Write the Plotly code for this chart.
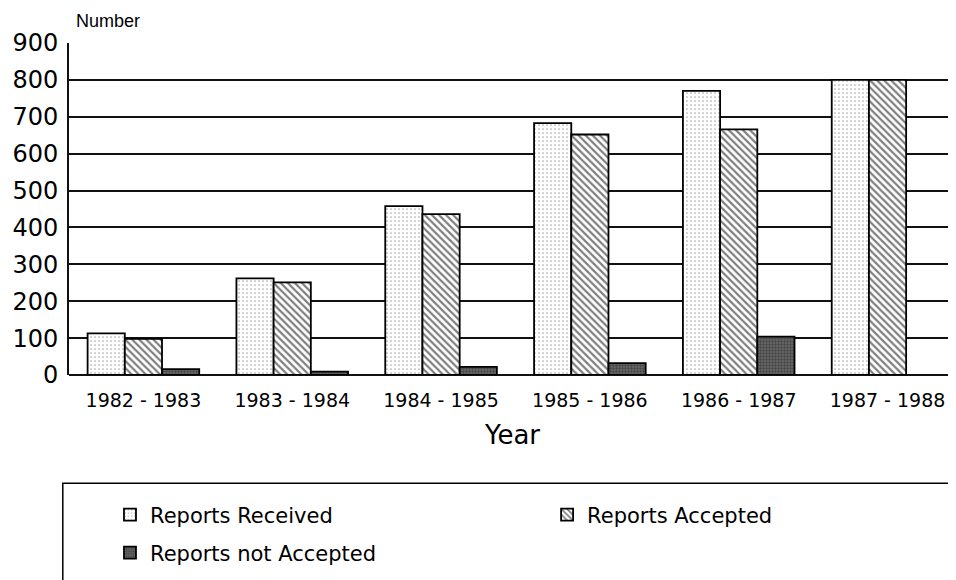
import plotly.graph_objects as go

categories = ["1982 - 1983", "1983 - 1984", "1984 - 1985", "1985 - 1986", "1986 - 1987", "1987 - 1988"]
received = [113, 262, 458, 683, 770, 800]
accepted = [98, 251, 436, 652, 666, 800]
not_accepted = [16, 9, 22, 32, 104, None]
y_ticks = [0, 100, 200, 300, 400, 500, 600, 700, 800, 900]

FONT = "DejaVu Sans"
TEXT_FONT = "Liberation Sans"

fig = go.Figure()
fig.add_trace(go.Bar(
    x=categories, y=received, name="Reports Received", legend="legend",
    marker=dict(color="white", line=dict(color="black", width=1.8),
                pattern=dict(shape=".", fgcolor="#555", bgcolor="white", size=4, solidity=0.15)),
))
fig.add_trace(go.Bar(
    x=categories, y=accepted, name="Reports Accepted", legend="legend2",
    marker=dict(color="white", line=dict(color="black", width=1.8),
                pattern=dict(shape="\\", fgcolor="black", bgcolor="white", size=5, solidity=0.45)),
))
fig.add_trace(go.Bar(
    x=categories, y=not_accepted, name="Reports not Accepted", legend="legend3",
    marker=dict(color="#555", line=dict(color="black", width=1.8),
                pattern=dict(shape=".", fgcolor="#222", bgcolor="#6a6a6a", size=3, solidity=0.5)),
))

leg_common = dict(yanchor="middle", xanchor="left", bgcolor="rgba(0,0,0,0)",
                  font=dict(size=21, family=FONT))

fig.update_layout(
    width=948, height=572,
    margin=dict(l=61, r=0, t=35, b=205),
    paper_bgcolor="white", plot_bgcolor="white",
    barmode="group", bargap=0.25, bargroupgap=0,
    font=dict(family=FONT, color="black"),
    xaxis=dict(
        range=[-0.5, 5.46], showgrid=False, showline=False, ticks="", automargin=False,
        tickfont=dict(size=19), ticklabelstandoff=12,
        title=dict(text="Year", font=dict(size=26), standoff=15),
    ),
    yaxis=dict(
        range=[0, 900], tickvals=y_ticks, showgrid=True, gridcolor="#111", gridwidth=2,
        showline=True, linecolor="#111", linewidth=2, ticks="", automargin=False,
        zeroline=True, zerolinecolor="#111", zerolinewidth=2,
        tickfont=dict(size=24), ticklabelstandoff=4,
    ),
    legend=dict(x=0.0462, y=-0.4217, **leg_common),
    legend2=dict(x=0.539, y=-0.4217, **leg_common),
    legend3=dict(x=0.0462, y=-0.536, **leg_common),
    showlegend=True,
    annotations=[dict(text="Number", xref="paper", yref="paper", x=0, y=1,
                      xanchor="left", yanchor="bottom", xshift=5, yshift=10,
                      showarrow=False, font=dict(size=18, family=TEXT_FONT))],
    shapes=[dict(type="rect", xref="paper", yref="paper", x0=-0.007, x1=1.1, y0=-0.326, y1=-0.8,
                 line=dict(color="black", width=1.5), fillcolor="rgba(0,0,0,0)", layer="below")],
)

fig.write_html("out.html")
